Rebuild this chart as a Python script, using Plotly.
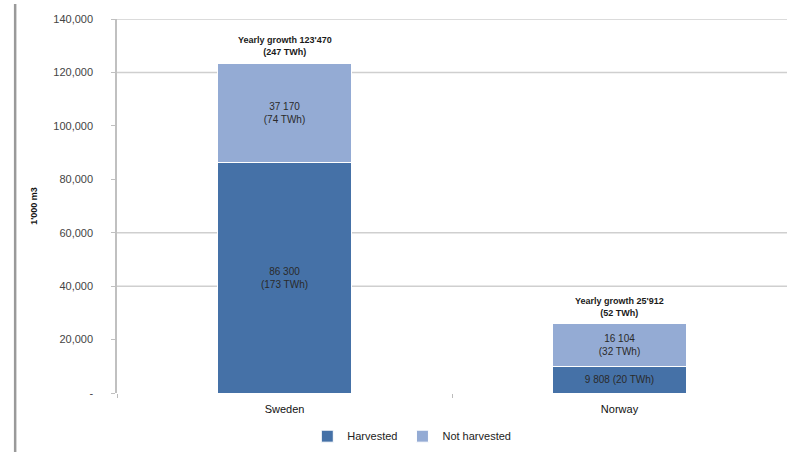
import plotly.graph_objects as go

countries = ["Sweden", "Norway"]
harvested = [86300, 9808]
not_harvested = [37170, 16104]
harvested_labels = ["86 300<br>(173 TWh)", "9 808 (20 TWh)"]
not_harvested_labels = ["37 170<br>(74 TWh)", "16 104<br>(32 TWh)"]
growth_labels = ["Yearly growth 123'470<br>(247 TWh)", "Yearly growth 25'912<br>(52 TWh)"]
tick_vals = [0, 20000, 40000, 60000, 80000, 100000, 120000, 140000]
tick_text = ["-", "20,000", "40,000", "60,000", "80,000", "100,000", "120,000", "140,000"]
grid_vals = [40000, 60000, 120000, 140000]

dark = "#4571a7"
light = "#94abd4"
font_family = "Liberation Sans Narrow, Liberation Sans, Arial"

fig = go.Figure()
fig.add_trace(go.Bar(
    x=countries, y=harvested, name="Harvested",
    marker=dict(color=dark, line=dict(color="white", width=1)),
    text=harvested_labels, textposition="inside", insidetextanchor="middle",
    textfont=dict(size=10, color="#2a2a2a", family=font_family),
    width=0.4,
))
fig.add_trace(go.Bar(
    x=countries, y=not_harvested, name="Not harvested",
    marker=dict(color=light, line=dict(color="white", width=1)),
    text=not_harvested_labels, textposition="inside", insidetextanchor="middle",
    textfont=dict(size=10, color="#2a2a2a", family=font_family),
    width=0.4,
))

for c, h, n, g in zip(countries, harvested, not_harvested, growth_labels):
    fig.add_annotation(x=c, y=h + n, text="<b>" + g + "</b>", showarrow=False,
                       yanchor="bottom", yshift=4,
                       font=dict(size=9, color="#1a1a1a", family=font_family))

for v in grid_vals:
    fig.add_shape(type="line", xref="paper", yref="y", x0=0, x1=1, y0=v, y1=v,
                  line=dict(color="#cfcfcf", width=1.5), layer="below")

fig.add_shape(type="line", xref="paper", yref="paper", x0=-0.152, x1=-0.152, y0=-0.16, y1=1.04,
              line=dict(color="#9a9a9a", width=2.5))

fig.update_layout(
    width=787, height=452,
    margin=dict(l=117, r=0, t=19, b=59, autoexpand=False),
    barmode="stack",
    plot_bgcolor="white", paper_bgcolor="white",
    font=dict(family=font_family, size=10, color="#333333"),
    showlegend=True,
    legend=dict(orientation="h", x=0.44, xanchor="center", yref="container", y=0.035, yanchor="middle",
                font=dict(size=11, color="#222222"), itemwidth=30, traceorder="normal"),
    xaxis=dict(showline=False, ticks="outside", tickson="boundaries", ticklen=4,
               tickcolor="#bbbbbb", showgrid=False, ticklabelstandoff=8,
               tickfont=dict(size=11, color="#111111")),
    yaxis=dict(range=[0, 140000], tickvals=tick_vals, ticktext=tick_text,
               showgrid=False, showline=True, linecolor="#c0c0c0", linewidth=1.5,
               ticks="outside", ticklen=4, tickcolor="#c0c0c0", ticklabelstandoff=16,
               tickfont=dict(size=11, color="#444444"), zeroline=False,
               title=dict(text="<b>1'000 m3</b>", font=dict(size=9, color="#111111"), standoff=14)),
)

fig.write_html("out.html")
